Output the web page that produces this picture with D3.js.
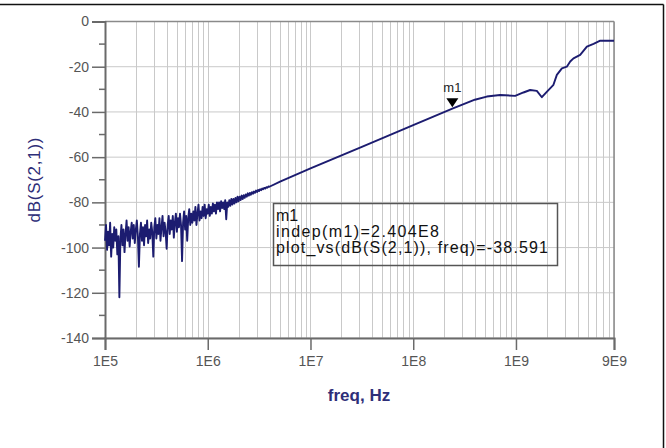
<!DOCTYPE html>
<html>
<head>
<meta charset="utf-8">
<script src="https://cdn.jsdelivr.net/npm/d3@7"></script>
<style>
html,body{margin:0;padding:0;background:#fff;}
svg{display:block;font-family:Arial,"Liberation Sans",sans-serif;}
</style>
</head>
<body>
<div id="chart"></div>
<script>
// ---- data ----
const xTickValues = [1e5, 1e6, 1e7, 1e8, 1e9, 9e9];
const xTickLabels = ["1E5", "1E6", "1E7", "1E8", "1E9", "9E9"];
const yTickValues = [0, -20, -40, -60, -80, -100, -120, -140];
const yTickLabels = ["0", "-20", "-40", "-60", "-80", "-100", "-120", "-140"];

// log sweep of the noisy low-frequency part (exponent start / step)
const sweepExpStart = 5.0;
const sweepExpStep = 0.01;
const noiseDb = [
 -97,-90,-101,-93,-99,-89,-104,-94,-100,-91,
 -97,-92,-103,-95,-122,-96,-90,-99,-92,-102,
 -94,-88,-97,-91,-99.5,-93,-89,-96,-90,-98,
 -92,-88,-95,-108.5,-94,-89,-97,-91,-99,-90,
 -95,-88,-98,-92,-96,-89,-93,-104,-91,-87,
 -96,-90,-94,-87,-97,-91,-86,-95,-89,-93,
 -100.5,-90,-86,-94,-88,-92,-86,-95.6,-89,-85,
 -93,-87,-91,-85,-90,-106,-89,-84,-92,-86,
 -97,-87,-83,-90,-85,-89,-84,-88,-82,-90,
 -85,-81,-88,-84,-87,-82,-86,-81,-87,-83,
 -85,-81,-86,-82,-85,-80.5,-84,-81,-85,-80,
 -83,-80,-84,-79.5,-82.5,-80,-83,-79,-87.5,-80,
 -82,-79,-81.5,-78.5,-81,-78.5,-80.5,-78,-80,-77.5,
 -79.5,-77.5,-79,-77,-78.5,-76.8,-78,-76.5,-77.5,-76,
 -77,-75.8,-76.6,-75.5,-76.2,-75.2,-75.8,-74.8,-75.4,-74.5,
 -75,-74.2,-74.6,-73.9,-74.2,-73.6,-73.9,-73.3,-73.5,-73,
 -73.1
];
// smoother upper part of the trace
const traceFreqHz = [5.058e6, 1e7, 3.162e7, 1e8, 2.404e8, 3.98e8, 5.2e8, 7.01e8, 9.82e8,
  1.183e9, 1.374e9, 1.596e9, 1.786e9, 1.995e9, 2.317e9, 2.5e9, 2.8e9, 3.126e9, 3.373e9,
  3.63e9, 4.217e9, 4.9e9, 5.69e9, 6.61e9, 9e9];
const traceDb = [-70.8, -65, -55.5, -45.8, -38.591, -34.6, -33.2, -32.5, -32.9,
  -31.4, -30.3, -30.7, -33.5, -31.1, -28.0, -23.6, -20.7, -20.0, -17.7,
  -16.3, -14.8, -11.1, -9.9, -8.5, -8.5];

const markerName = "m1";
const markerFreq = 2.404e8;
const markerDb = -38.591;
const markerLines = ["m1", "indep(m1)=2.404E8", "plot_vs(dB(S(2,1)), freq)=-38.591"];

// ---- build ----
const W = 666, H = 448;
const svg = d3.select("#chart").append("svg").attr("width", W).attr("height", H);
svg.append("rect").attr("width", W).attr("height", H).attr("fill", "#fff");

const pLeft = 105, pRight = 614, pTop = 21.5, pBottom = 338;
const x = d3.scaleLog().domain([1e5, 9e9]).range([pLeft, pRight]);
const y = d3.scaleLinear().domain([-140, 0]).range([pBottom, pTop]);

// outer frame (top + right)
svg.append("line").attr("x1", 0).attr("x2", 663.5).attr("y1", 4.5).attr("y2", 4.5)
  .attr("stroke", "#111").attr("stroke-width", 1.5);
svg.append("line").attr("x1", 663.5).attr("x2", 663.5).attr("y1", 4.5).attr("y2", H)
  .attr("stroke", "#111").attr("stroke-width", 1.5);

// vertical log grid
const gridX = [];
for (let d = 5; d <= 9; d++) for (let m = 1; m <= 9; m++) {
  const v = m * Math.pow(10, d);
  if (v <= 9e9 * 1.0001) gridX.push(v);
}
svg.append("g").selectAll("line").data(gridX).join("line")
  .attr("x1", d => Math.round(x(d)) + 0.5).attr("x2", d => Math.round(x(d)) + 0.5)
  .attr("y1", pTop).attr("y2", pBottom)
  .attr("stroke", "#c9c9c9").attr("stroke-width", 1);
// horizontal grid
svg.append("g").selectAll("line").data(yTickValues).join("line")
  .attr("x1", pLeft).attr("x2", pRight)
  .attr("y1", d => y(d)).attr("y2", d => y(d))
  .attr("stroke", "#c9c9c9").attr("stroke-width", 1);

// plot frame top/right
svg.append("line").attr("x1", pLeft).attr("x2", pRight).attr("y1", pTop).attr("y2", pTop)
  .attr("stroke", "#8a8a8a").attr("stroke-width", 1.5);
svg.append("line").attr("x1", pRight).attr("x2", pRight).attr("y1", pTop).attr("y2", pBottom)
  .attr("stroke", "#8a8a8a").attr("stroke-width", 1.5);

// y axis
const yAxis = d3.axisLeft(y).tickValues(yTickValues)
  .tickFormat((d, i) => yTickLabels[i]).tickSize(13).tickPadding(3);
const gy = svg.append("g").attr("transform", `translate(${pLeft},0)`).call(yAxis);
gy.select(".domain").attr("stroke", "#6a6a6a").attr("stroke-width", 2);
gy.selectAll(".tick line").attr("stroke", "#6a6a6a").attr("stroke-width", 1.5);
gy.selectAll(".tick text").attr("fill", "#555").style("font-size", "14px");
// minor y ticks
const yMinor = d3.range(-130, 0, 20);
svg.append("g").selectAll("line").data(yMinor).join("line")
  .attr("x1", pLeft - 6).attr("x2", pLeft).attr("y1", d => y(d)).attr("y2", d => y(d))
  .attr("stroke", "#6a6a6a").attr("stroke-width", 1.5);

// x axis
const xAxis = d3.axisBottom(x).tickValues(xTickValues)
  .tickFormat((d, i) => xTickLabels[i]).tickSize(12).tickPadding(6);
const gx = svg.append("g").attr("transform", `translate(0,${pBottom})`).call(xAxis);
gx.select(".domain").attr("stroke", "#6a6a6a").attr("stroke-width", 2);
gx.selectAll(".tick line").attr("stroke", "#6a6a6a").attr("stroke-width", 1.5);
gx.selectAll(".tick text").attr("fill", "#555").style("font-size", "14px");

// axis titles
svg.append("text").attr("x", 359).attr("y", 401).attr("text-anchor", "middle")
  .attr("fill", "#2e2e78").style("font-size", "17px").style("font-weight", "bold")
  .text("freq, Hz");
svg.append("text").attr("transform", "translate(40,180) rotate(-90)")
  .attr("text-anchor", "middle").attr("fill", "#2e2e78").style("font-size", "17px")
  .attr("textLength", 85).attr("lengthAdjust", "spacing")
  .text("dB(S(2,1))");

// trace
const pts = noiseDb.map((v, i) => [Math.pow(10, sweepExpStart + i * sweepExpStep), v])
  .concat(traceFreqHz.map((f, i) => [f, traceDb[i]]));
svg.append("path").datum(pts)
  .attr("d", d3.line().x(d => x(d[0])).y(d => y(d[1])))
  .attr("fill", "none").attr("stroke", "#1c1c70").attr("stroke-width", 1.9)
  .attr("stroke-linejoin", "round");

// marker
const mx = x(markerFreq), my = y(markerDb) - 1.5;
svg.append("path")
  .attr("d", `M${mx - 6},${my - 9} L${mx + 6},${my - 9} L${mx},${my} Z`)
  .attr("fill", "#000");
svg.append("text").attr("x", mx).attr("y", my - 15).attr("text-anchor", "middle")
  .attr("fill", "#222").style("font-size", "13px").text(markerName);

// annotation box
svg.append("rect").attr("x", 273.5).attr("y", 203.5).attr("width", 284).attr("height", 62)
  .attr("fill", "none").attr("stroke", "#555").attr("stroke-width", 1.5);
const lineLens = [null, 163, 272];
const annot = svg.append("g").selectAll("text").data(markerLines).join("text")
  .attr("x", 276).attr("y", (d, i) => 221 + i * 16)
  .attr("fill", "#111").style("font-size", "16px")
  .text(d => d);
annot.filter((d, i) => lineLens[i] !== null)
  .attr("textLength", (d, i) => lineLens[i + 1]).attr("lengthAdjust", "spacing");
</script>
</body>
</html>
